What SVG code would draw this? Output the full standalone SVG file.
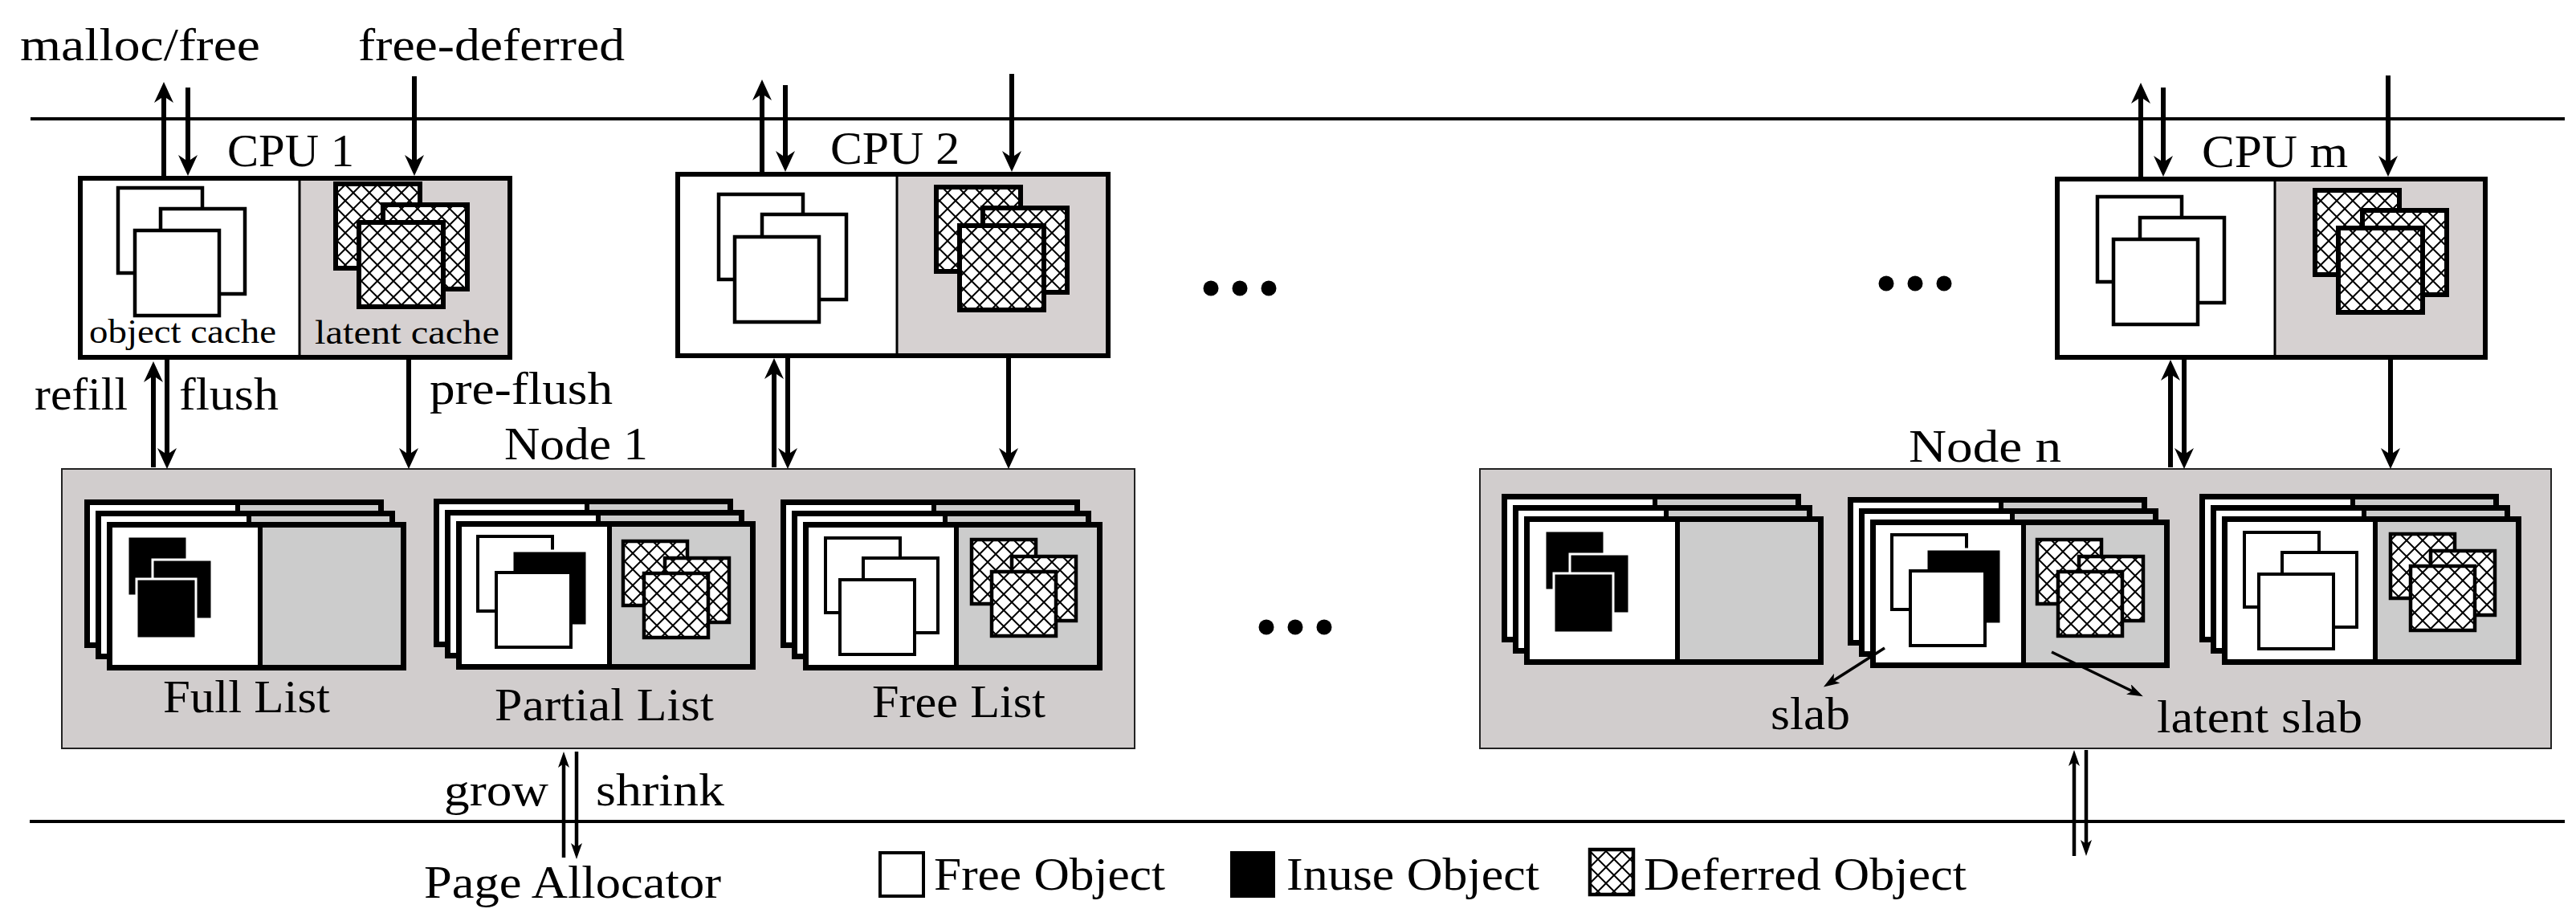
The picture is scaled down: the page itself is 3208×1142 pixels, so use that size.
<svg xmlns="http://www.w3.org/2000/svg" xmlns:xlink="http://www.w3.org/1999/xlink" width="3208" height="1142" viewBox="0 0 3208 1142">
  <style>
    .t { font-family: "Liberation Serif", "Times New Roman", serif; font-size: 58px; fill: #000; }
    .ts { font-size: 42px; }
    .rule { stroke: #000; stroke-width: 4; fill: none; }
    .ar { stroke: #000; stroke-width: 6; fill: none; }
    .ar2 { stroke: #000; stroke-width: 4.5; fill: none; }
    .box { fill: none; stroke: #000; stroke-width: 6; }
    .split { stroke: #000; stroke-width: 3; }
    .lat { fill: #d6d1d1; }
    .node { fill: #d1cdcd; stroke: #222; stroke-width: 2; }
    .obj { fill: #fff; stroke: #000; stroke-width: 4.5; }
    .def { fill: url(#hatch); stroke: #000; stroke-width: 6; }
    .sobj { fill: #fff; stroke: #000; stroke-width: 4; }
    .sdef { fill: url(#hatch); stroke: #000; stroke-width: 4.5; }
    .inuse { fill: #000; stroke: #fff; stroke-width: 3; }
    .dot { fill: #000; }
  </style>
  <defs>
    <pattern id="hatch" width="20" height="20" patternUnits="userSpaceOnUse">
      <rect width="20" height="20" fill="#fff"/>
      <path d="M0,0 L20,20 M20,0 L0,20" stroke="#000" stroke-width="2"/>
    </pattern>
    <marker id="ah" markerUnits="userSpaceOnUse" markerWidth="26" markerHeight="24" viewBox="0 0 26 24" refX="11" refY="12" orient="auto">
      <path d="M0,0 L26,12 L0,24 L8,12 Z" fill="#000"/>
    </marker>
    <marker id="ahs" markerUnits="userSpaceOnUse" markerWidth="20" markerHeight="14" viewBox="0 0 20 14" refX="8" refY="7" orient="auto">
      <path d="M0,0 L20,7 L0,14 L5,7 Z" fill="#000"/>
    </marker>
    <!-- one slab page: object half (white) and latent half (grey) -->
    <g id="layer">
      <rect x="3.5" y="3.5" width="187" height="178" fill="#fff"/>
      <rect x="190.5" y="3.5" width="179" height="178" fill="#cccccc"/>
      <rect x="3.5" y="3.5" width="366" height="178" fill="none" stroke="#000" stroke-width="7"/>
      <line x1="191" y1="3.5" x2="191" y2="181.5" stroke="#000" stroke-width="6"/>
    </g>
    <!-- three stacked slab pages, front page at the origin -->
    <g id="stack">
      <use xlink:href="#layer" x="-28" y="-28"/>
      <use xlink:href="#layer" x="-14" y="-14"/>
      <use xlink:href="#layer" x="0" y="0"/>
    </g>
    <g id="full-content">
      <rect class="inuse" x="26" y="18" width="74" height="74"/>
      <rect class="inuse" x="57" y="47" width="74" height="74"/>
      <rect class="inuse" x="37" y="71" width="74" height="74"/>
    </g>
    <g id="partial-content">
      <rect class="sobj" x="27" y="19" width="93" height="93"/>
      <rect class="inuse" x="70" y="37" width="93" height="93"/>
      <rect class="sobj" x="50" y="64" width="93" height="93"/>
      <rect class="sdef" x="208" y="25" width="80" height="80"/>
      <rect class="sdef" x="260" y="46" width="80" height="80"/>
      <rect class="sdef" x="234" y="65" width="80" height="80"/>
    </g>
    <g id="free-content">
      <rect class="sobj" x="28" y="20" width="93" height="93"/>
      <rect class="sobj" x="75" y="45" width="93" height="93"/>
      <rect class="sobj" x="46" y="72" width="93" height="93"/>
      <rect class="sdef" x="210" y="22" width="80" height="80"/>
      <rect class="sdef" x="260" y="43" width="80" height="80"/>
      <rect class="sdef" x="235" y="62" width="80" height="80"/>
    </g>
  </defs>

  <rect width="3208" height="1142" fill="#fff"/>

  <!-- horizontal rules: user space / kernel caches / page allocator -->
  <g id="rules">
    <line class="rule" x1="38" y1="148" x2="3194" y2="148"/>
    <line class="rule" x1="37" y1="1023" x2="3194" y2="1023"/>
  </g>

  <g id="top-labels">
    <text class="t" x="25" y="75" textLength="299" lengthAdjust="spacingAndGlyphs">malloc/free</text>
    <text class="t" x="446" y="75" textLength="332" lengthAdjust="spacingAndGlyphs">free-deferred</text>
  </g>

  <!-- per-CPU caches -->
  <g id="cpu1">
    <rect x="100" y="222" width="535" height="223" fill="#fff"/>
    <rect class="lat" x="373" y="222" width="262" height="223"/>
    <rect class="obj" x="147" y="234" width="105" height="106"/>
    <rect class="obj" x="200" y="260" width="105" height="106"/>
    <rect class="obj" x="168" y="287" width="105" height="106"/>
    <rect class="def" x="418" y="229" width="105" height="105"/>
    <rect class="def" x="477" y="255" width="105" height="105"/>
    <rect class="def" x="447" y="277" width="105" height="105"/>
    <line class="split" x1="373" y1="222" x2="373" y2="445"/>
    <rect class="box" x="100" y="222" width="535" height="223"/>
    <text class="t" x="283" y="207" textLength="158" lengthAdjust="spacingAndGlyphs">CPU 1</text>
    <text class="t ts" x="111" y="427" textLength="233" lengthAdjust="spacingAndGlyphs">object cache</text>
    <text class="t ts" x="392" y="428" textLength="230" lengthAdjust="spacingAndGlyphs">latent cache</text>
  </g>

  <g id="cpu2">
    <rect x="844" y="217" width="536" height="226" fill="#fff"/>
    <rect class="lat" x="1117" y="217" width="263" height="226"/>
    <rect class="obj" x="895" y="242" width="105" height="106"/>
    <rect class="obj" x="949" y="267" width="105" height="106"/>
    <rect class="obj" x="915" y="295" width="105" height="106"/>
    <rect class="def" x="1166" y="233" width="105" height="105"/>
    <rect class="def" x="1224" y="259" width="105" height="105"/>
    <rect class="def" x="1195" y="281" width="105" height="105"/>
    <line class="split" x1="1117" y1="217" x2="1117" y2="443"/>
    <rect class="box" x="844" y="217" width="536" height="226"/>
    <text class="t" x="1034" y="204" textLength="161" lengthAdjust="spacingAndGlyphs">CPU 2</text>
  </g>

  <g id="cpum">
    <rect x="2562" y="223" width="533" height="222" fill="#fff"/>
    <rect class="lat" x="2833" y="223" width="262" height="222"/>
    <rect class="obj" x="2612" y="245" width="105" height="106"/>
    <rect class="obj" x="2665" y="271" width="105" height="106"/>
    <rect class="obj" x="2632" y="298" width="105" height="106"/>
    <rect class="def" x="2883" y="237" width="105" height="105"/>
    <rect class="def" x="2942" y="262" width="105" height="105"/>
    <rect class="def" x="2912" y="284" width="105" height="105"/>
    <line class="split" x1="2833" y1="223" x2="2833" y2="445"/>
    <rect class="box" x="2562" y="223" width="533" height="222"/>
    <text class="t" x="2742" y="208" textLength="182" lengthAdjust="spacingAndGlyphs">CPU m</text>
  </g>

  <g id="cpu-labels">
    <text class="t" x="43" y="510" textLength="116" lengthAdjust="spacingAndGlyphs">refill</text>
    <text class="t" x="223" y="510" textLength="124" lengthAdjust="spacingAndGlyphs">flush</text>
    <text class="t" x="535" y="503" textLength="228" lengthAdjust="spacingAndGlyphs">pre-flush</text>
  </g>

  <!-- per-node slab lists -->
  <g id="node1">
    <rect class="node" x="77" y="584" width="1336" height="348"/>
    <text class="t" x="628" y="572" textLength="179" lengthAdjust="spacingAndGlyphs">Node 1</text>
    <g transform="translate(133,650)">
      <use xlink:href="#stack"/>
      <use xlink:href="#full-content"/>
    </g>
    <g transform="translate(568,649)">
      <use xlink:href="#stack"/>
      <use xlink:href="#partial-content"/>
    </g>
    <g transform="translate(1000,650)">
      <use xlink:href="#stack"/>
      <use xlink:href="#free-content"/>
    </g>
    <text class="t" x="203" y="887" textLength="208" lengthAdjust="spacingAndGlyphs">Full List</text>
    <text class="t" x="616" y="897" textLength="273" lengthAdjust="spacingAndGlyphs">Partial List</text>
    <text class="t" x="1086" y="893" textLength="216" lengthAdjust="spacingAndGlyphs">Free List</text>
  </g>

  <g id="noden">
    <rect class="node" x="1843" y="584" width="1334" height="348"/>
    <text class="t" x="2377" y="575" textLength="190" lengthAdjust="spacingAndGlyphs">Node n</text>
    <g transform="translate(1898,643)">
      <use xlink:href="#stack"/>
      <use xlink:href="#full-content"/>
    </g>
    <g transform="translate(2329,647)">
      <use xlink:href="#stack"/>
      <use xlink:href="#partial-content"/>
    </g>
    <g transform="translate(2767,643)">
      <use xlink:href="#stack"/>
      <use xlink:href="#free-content"/>
    </g>
    <text class="t" x="2205" y="908" textLength="99" lengthAdjust="spacingAndGlyphs">slab</text>
    <text class="t" x="2686" y="912" textLength="256" lengthAdjust="spacingAndGlyphs">latent slab</text>
  </g>

  <g id="page-allocator">
    <text class="t" x="553" y="1003" textLength="130" lengthAdjust="spacingAndGlyphs">grow</text>
    <text class="t" x="742" y="1003" textLength="160" lengthAdjust="spacingAndGlyphs">shrink</text>
    <text class="t" x="528" y="1118" textLength="370" lengthAdjust="spacingAndGlyphs">Page Allocator</text>
  </g>

  <!-- more CPUs / nodes -->
  <g id="ellipsis">
    <circle class="dot" cx="1508" cy="359" r="9.5"/>
    <circle class="dot" cx="1544" cy="359" r="9.5"/>
    <circle class="dot" cx="1580" cy="359" r="9.5"/>
    <circle class="dot" cx="2349" cy="353" r="9.5"/>
    <circle class="dot" cx="2385" cy="353" r="9.5"/>
    <circle class="dot" cx="2421" cy="353" r="9.5"/>
    <circle class="dot" cx="1577" cy="781" r="9.5"/>
    <circle class="dot" cx="1613" cy="781" r="9.5"/>
    <circle class="dot" cx="1649" cy="781" r="9.5"/>
  </g>

  <g id="legend">
    <rect class="sobj" x="1096" y="1062" width="54" height="54"/>
    <text class="t" x="1163" y="1108" textLength="288" lengthAdjust="spacingAndGlyphs">Free Object</text>
    <rect x="1532" y="1060" width="56" height="58" fill="#000"/>
    <text class="t" x="1602" y="1108" textLength="315" lengthAdjust="spacingAndGlyphs">Inuse Object</text>
    <rect class="sdef" x="1980" y="1058" width="54" height="56"/>
    <text class="t" x="2047" y="1108" textLength="402" lengthAdjust="spacingAndGlyphs">Deferred Object</text>
  </g>

  <!-- connectors -->
  <g id="connectors">
    <g class="ar" marker-end="url(#ah)">
      <!-- CPU 1 -->
      <path d="M204,219 V117"/>
      <path d="M234,109 V204"/>
      <path d="M516,95 V204"/>
      <path d="M191,582 V465"/>
      <path d="M208,448 V569"/>
      <path d="M509,448 V569"/>
      <!-- CPU 2 -->
      <path d="M949,214 V114"/>
      <path d="M978,106 V199"/>
      <path d="M1260,92 V199"/>
      <path d="M964,582 V461"/>
      <path d="M981,446 V569"/>
      <path d="M1256,446 V569"/>
      <!-- CPU m -->
      <path d="M2666,220 V118"/>
      <path d="M2694,109 V205"/>
      <path d="M2974,94 V205"/>
      <path d="M2703,582 V463"/>
      <path d="M2720,448 V569"/>
      <path d="M2977,448 V569"/>
    </g>
    <g class="ar2" marker-end="url(#ahs)">
      <path d="M702,1068 V948"/>
      <path d="M718,936 V1058"/>
      <path d="M2583,1066 V946"/>
      <path d="M2598,934 V1054"/>
      <path d="M2347,807 L2281,849" stroke-width="3.5"/>
      <path d="M2555,812 L2658,862" stroke-width="3.5"/>
    </g>
  </g>
</svg>
